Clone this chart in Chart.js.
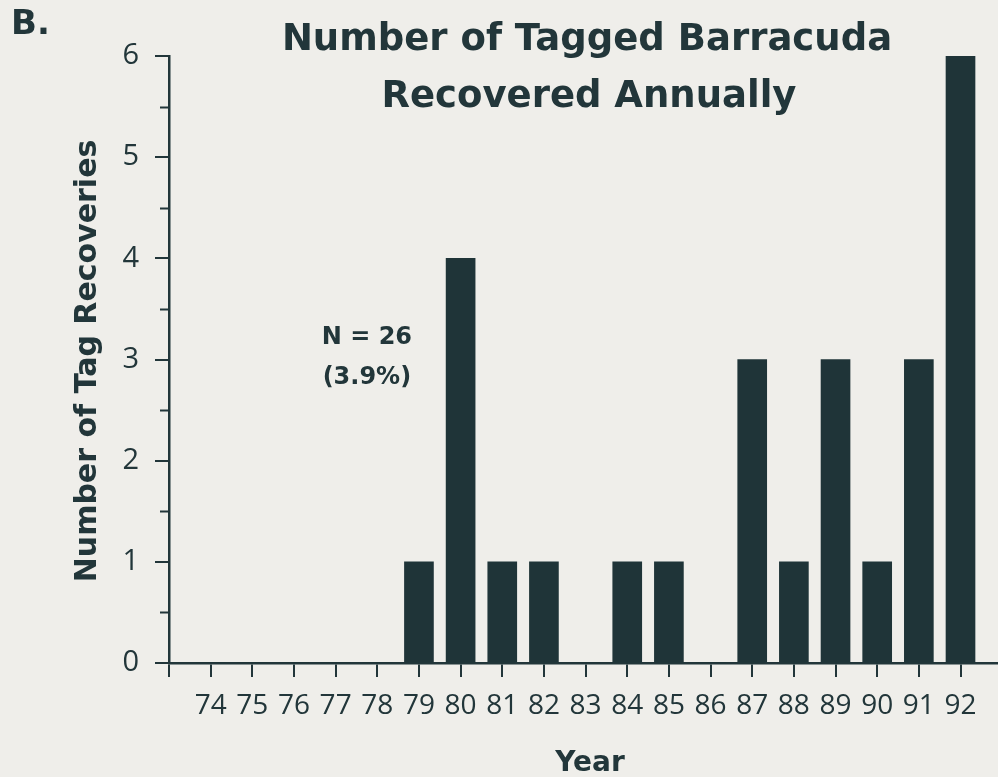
<!DOCTYPE html>
<html>
<head>
<meta charset="utf-8">
<script src="https://cdn.jsdelivr.net/npm/chart.js@4.4.0/dist/chart.umd.min.js"></script>
<style>
  html, body { margin: 0; padding: 0; background: #efeeea; }
  #wrap { width: 998px; height: 777px; position: relative; }
</style>
</head>
<body>
<div id="wrap"><canvas id="myChart" width="998" height="777"></canvas></div>
<script>
// Dados
const years = [74, 75, 76, 77, 78, 79, 80, 81, 82, 83, 84, 85, 86, 87, 88, 89, 90, 91, 92];
const recoveries = [0, 0, 0, 0, 0, 1, 4, 1, 1, 0, 1, 1, 0, 3, 1, 3, 1, 3, 6];
const yTicks = [0, 1, 2, 3, 4, 5, 6];
const panelLabel = "B.";
const titleLines = ["Number of Tagged Barracuda", "Recovered Annually"];
const yTitle = "Number of Tag Recoveries";
const xTitle = "Year";
const noteLines = ["N = 26", "(3.9%)"];

const ink = "#22363a";
const barColor = "#1f3438";
const tickFont = "'Open Sans', sans-serif";
const titleFont = "'DejaVu Sans', sans-serif";

// Textos e marcas menores desenhados por cima do gráfico
const overlay = {
    id: "overlay",
    afterDraw(chart) {
        const c = chart.ctx;
        const xs = chart.scales.x;
        const ys = chart.scales.y;
        c.save();
        c.fillStyle = ink;
        c.strokeStyle = ink;

        // marcas menores do eixo Y
        c.lineWidth = 2;
        for (let v = 0.5; v < 6; v += 1) {
            const py = Math.round(ys.getPixelForValue(v)) + 0.5;
            c.beginPath();
            c.moveTo(xs.left - 9, py);
            c.lineTo(xs.left, py);
            c.stroke();
        }

        c.font = "bold 34px " + titleFont;
        c.textAlign = "left";
        c.textBaseline = "alphabetic";
        c.fillText(panelLabel, 11, 34);

        c.font = "bold 37px " + titleFont;
        c.textAlign = "center";
        c.fillText(titleLines[0], 587, 50);
        c.fillText(titleLines[1], 589, 107);

        c.font = "bold 28px " + titleFont;
        c.fillText(xTitle, 590, 771);

        c.font = "bold 30px " + titleFont;
        c.save();
        c.translate(96, 361);
        c.rotate(-Math.PI / 2);
        c.fillText(yTitle, 0, 0);
        c.restore();

        // anotação N = 26
        c.font = "bold 24px " + titleFont;
        const ax = xs.getPixelForValue(77.75);
        const ay = ys.getPixelForValue(3.15);
        c.fillText(noteLines[0], ax, ay);
        c.fillText(noteLines[1], ax, ay + 40);
        c.restore();
    }
};

const chartInstance = new Chart(document.querySelector("#myChart"), {
    type: "bar",
    data: {
        datasets: [{
            data: years.map((yr, i) => ({ x: yr, y: recoveries[i] })),
            backgroundColor: barColor,
            borderWidth: 0,
            barThickness: 29,
        }],
    },
    options: {
        responsive: false,
        animation: false,
        layout: { padding: { top: 56, right: 0, left: 0, bottom: 0 } },
        scales: {
            x: {
                type: "linear",
                min: 73,
                max: 92.9,
                offset: false,
                afterFit: (s) => { s.height = 114; },
                border: { display: true, color: ink, width: 2.5 },
                grid: { offset: false, drawOnChartArea: false, drawTicks: true, tickLength: 14, color: ink, lineWidth: 2 },
                ticks: {
                    stepSize: 1,
                    includeBounds: false,
                    padding: 12,
                    color: ink,
                    font: { family: tickFont, size: 28 },
                    maxRotation: 0,
                    autoSkip: false,
                    callback: (v) => (years.includes(v) ? String(v) : ""),
                },
            },
            y: {
                min: 0,
                max: 6,
                afterFit: (s) => { s.width = 169; },
                border: { display: true, color: ink, width: 2.5 },
                grid: { drawOnChartArea: false, drawTicks: true, tickLength: 14, color: ink, lineWidth: 2 },
                ticks: {
                    stepSize: 1,
                    padding: 16,
                    color: ink,
                    font: { family: tickFont, size: 29 },
                    callback: (v) => (yTicks.includes(v) ? String(v) : ""),
                },
            },
        },
        plugins: {
            legend: { display: false },
            tooltip: { enabled: false },
        },
    },
    plugins: [overlay],
});
</script>
</body>
</html>
